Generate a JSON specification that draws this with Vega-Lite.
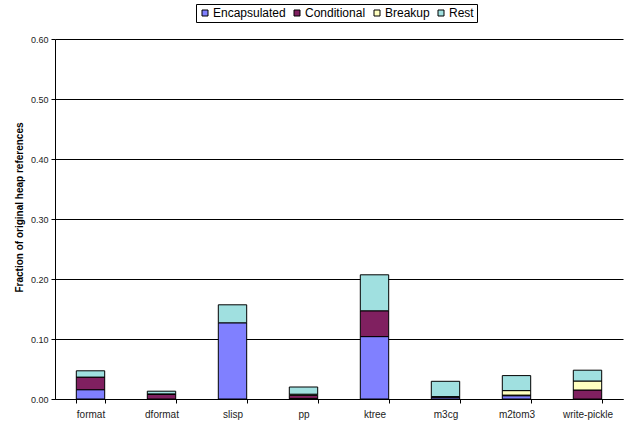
{
  "$schema": "https://vega.github.io/schema/vega-lite/v6.json",
  "autosize": "none",
  "padding": {"left": 55, "top": 39, "right": 8, "bottom": 22},
  "width": 568,
  "height": 360,
  "background": "white",
  "config": {
    "view": {"stroke": null},
    "font": "Liberation Sans",
    "axis": {
      "labelFont": "Liberation Sans",
      "titleFont": "Liberation Sans",
      "labelColor": "#222222",
      "domainColor": "black",
      "tickColor": "black",
      "gridColor": "black",
      "gridOpacity": 1
    }
  },
  "data": {
    "values": [
      {"program": "format", "kind": "Encapsulated", "fraction": 0.0155},
      {"program": "format", "kind": "Conditional", "fraction": 0.021},
      {"program": "format", "kind": "Rest", "fraction": 0.0105},
      {"program": "dformat", "kind": "Conditional", "fraction": 0.0075},
      {"program": "dformat", "kind": "Breakup", "fraction": 0.001},
      {"program": "dformat", "kind": "Rest", "fraction": 0.0045},
      {"program": "slisp", "kind": "Encapsulated", "fraction": 0.127},
      {"program": "slisp", "kind": "Rest", "fraction": 0.030},
      {"program": "pp", "kind": "Encapsulated", "fraction": 0.001},
      {"program": "pp", "kind": "Conditional", "fraction": 0.005},
      {"program": "pp", "kind": "Breakup", "fraction": 0.002},
      {"program": "pp", "kind": "Rest", "fraction": 0.012},
      {"program": "ktree", "kind": "Encapsulated", "fraction": 0.104},
      {"program": "ktree", "kind": "Conditional", "fraction": 0.043},
      {"program": "ktree", "kind": "Rest", "fraction": 0.060},
      {"program": "m3cg", "kind": "Encapsulated", "fraction": 0.003},
      {"program": "m3cg", "kind": "Conditional", "fraction": 0.001},
      {"program": "m3cg", "kind": "Rest", "fraction": 0.0255},
      {"program": "m2tom3", "kind": "Encapsulated", "fraction": 0.0055},
      {"program": "m2tom3", "kind": "Conditional", "fraction": 0.001},
      {"program": "m2tom3", "kind": "Breakup", "fraction": 0.0075},
      {"program": "m2tom3", "kind": "Rest", "fraction": 0.025},
      {"program": "write-pickle", "kind": "Conditional", "fraction": 0.015},
      {"program": "write-pickle", "kind": "Breakup", "fraction": 0.015},
      {"program": "write-pickle", "kind": "Rest", "fraction": 0.018}
    ]
  },
  "transform": [
    {"calculate": "indexof(['Encapsulated', 'Conditional', 'Breakup', 'Rest'], datum.kind)", "as": "stack_rank"}
  ],
  "mark": {"type": "bar", "stroke": "black", "strokeWidth": 1},
  "encoding": {
    "x": {
      "field": "program",
      "type": "nominal",
      "sort": ["format", "dformat", "slisp", "pp", "ktree", "m3cg", "m2tom3", "write-pickle"],
      "scale": {"paddingInner": 0.6, "paddingOuter": 0.3},
      "axis": {
        "title": null,
        "labelAngle": 0,
        "labelFontSize": 10,
        "labelPadding": 6,
        "tickSize": 4,
        "tickBand": "extent",
        "grid": false
      }
    },
    "y": {
      "field": "fraction",
      "type": "quantitative",
      "stack": "zero",
      "scale": {"domain": [0, 0.6], "nice": false},
      "axis": {
        "title": "Fraction of original heap references",
        "titleFontSize": 10,
        "titleFontWeight": "bold",
        "titlePadding": 6,
        "titleY": 168,
        "values": [0, 0.1, 0.2, 0.3, 0.4, 0.5, 0.6],
        "format": ".2f",
        "labelFontSize": 9,
        "labelPadding": 3,
        "tickSize": 4,
        "grid": true
      }
    },
    "color": {
      "field": "kind",
      "type": "nominal",
      "sort": ["Encapsulated", "Conditional", "Breakup", "Rest"],
      "scale": {
        "domain": ["Encapsulated", "Conditional", "Breakup", "Rest"],
        "range": ["#8080FF", "#802060", "#FFFFC0", "#A0E0E0"]
      },
      "legend": {
        "title": null,
        "orient": "none",
        "legendX": 141,
        "legendY": -35,
        "direction": "horizontal",
        "columns": 4,
        "columnPadding": 5,
        "labelFontSize": 12,
        "labelColor": "black",
        "labelOffset": 2,
        "symbolType": "square",
        "symbolSize": 36,
        "symbolStrokeColor": "black",
        "symbolStrokeWidth": 1,
        "symbolOpacity": 1,
        "strokeColor": "black",
        "padding": 3
      }
    },
    "order": {"field": "stack_rank", "type": "quantitative", "sort": "ascending"}
  }
}
